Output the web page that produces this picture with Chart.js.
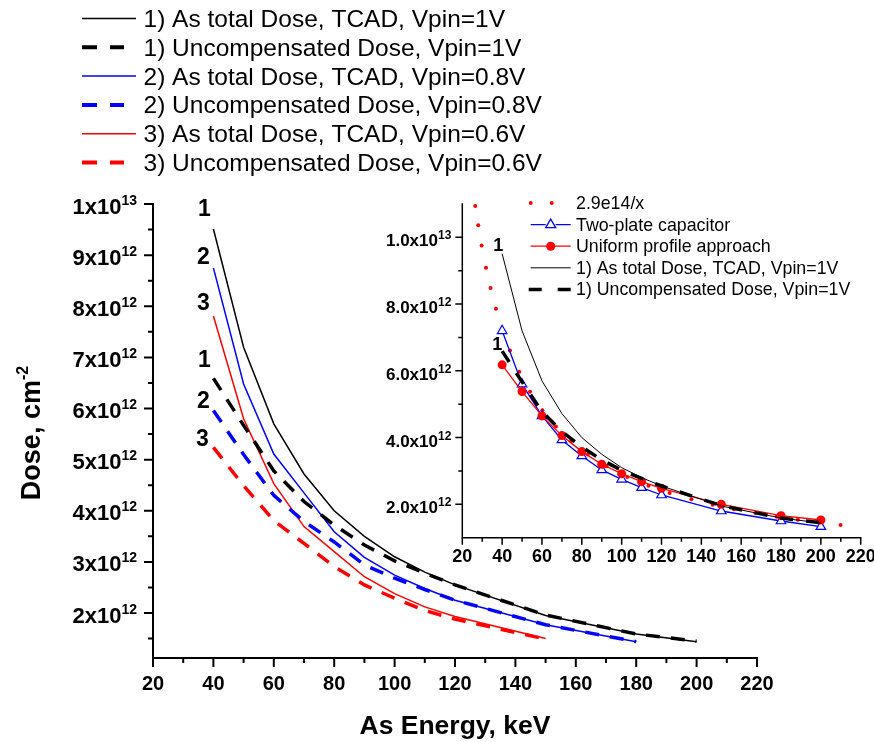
<!DOCTYPE html>
<html>
<head>
<meta charset="utf-8">
<title>Dose vs As energy</title>
<script src="https://cdn.jsdelivr.net/npm/chart.js"></script>
<style>
  body { margin: 0; background: #fff; }
  #wrap { position: relative; width: 874px; height: 742px; }
  #mainChart { position: absolute; left: 0; top: 0; }
  #insetChart { position: absolute; left: 370px; top: 180px; }
</style>
</head>
<body>
<div id="wrap">
<canvas id="mainChart" width="874" height="742"></canvas>
<canvas id="insetChart" width="504" height="400"></canvas>
</div>
<script>
// implant energies, keV
var energy = [40, 50, 60, 70, 80, 90, 100, 110, 120, 150, 180, 200];

// doses, cm^-2
var tcad1V   = [9.51e12, 7.20e12, 5.70e12, 4.72e12, 4.00e12, 3.50e12, 3.10e12, 2.80e12, 2.55e12, 1.95e12, 1.59e12, 1.44e12];
var uncomp1V = [6.59e12, 5.67e12, 4.78e12, 4.18e12, 3.72e12, 3.33e12, 3.02e12, 2.78e12, 2.55e12, 1.96e12, 1.59e12, 1.45e12];
var tcad08   = [8.75e12, 6.48e12, 5.11e12, 4.35e12, 3.59e12, 3.09e12, 2.74e12, 2.48e12, 2.25e12, 1.77e12, 1.44e12];
var uncomp08 = [5.96e12, 5.10e12, 4.30e12, 3.79e12, 3.39e12, 2.94e12, 2.68e12, 2.46e12, 2.25e12, 1.77e12, 1.44e12];
var tcad06   = [7.81e12, 5.80e12, 4.53e12, 3.69e12, 3.20e12, 2.71e12, 2.38e12, 2.12e12, 1.93e12, 1.50e12];
var uncomp06 = [5.24e12, 4.49e12, 3.81e12, 3.36e12, 2.91e12, 2.55e12, 2.29e12, 2.05e12, 1.88e12, 1.49e12];

// inset: models
var fitX = [26.5, 28.0, 29.7, 31.9, 34.2, 36.9, 40.3, 43.9, 48.6, 54.0, 60.2, 67.0, 74.6, 83.0, 92.4,
            102.8, 113.5, 124.1, 135.0, 145.7, 156.4, 167.1, 177.8, 188.5, 199.2, 209.9];
var fitY = [10.94e12, 10.36e12, 9.76e12, 9.09e12, 8.48e12, 7.86e12, 7.20e12, 6.61e12, 5.97e12, 5.37e12,
            4.82e12, 4.33e12, 3.89e12, 3.49e12, 3.14e12, 2.82e12, 2.56e12, 2.34e12, 2.15e12, 1.99e12,
            1.85e12, 1.74e12, 1.63e12, 1.54e12, 1.46e12, 1.38e12];
var twoPlate = [7.20e12, 5.60e12, 4.65e12, 3.93e12, 3.45e12, 3.03e12, 2.75e12, 2.50e12, 2.28e12, 1.80e12, 1.50e12, 1.33e12];
var uniform  = [6.18e12, 5.38e12, 4.65e12, 4.06e12, 3.58e12, 3.20e12, 2.92e12, 2.68e12, 2.48e12, 2.00e12, 1.66e12, 1.53e12];

// tick values and labels
var mainXMajor = [20, 40, 60, 80, 100, 120, 140, 160, 180, 200, 220];
var mainXMinor = [30, 50, 70, 90, 110, 130, 150, 170, 190, 210];
var mainYMajor = [2e12, 3e12, 4e12, 5e12, 6e12, 7e12, 8e12, 9e12, 1e13];
var mainYMant  = ['2', '3', '4', '5', '6', '7', '8', '9', '1'];
var mainYExp   = ['12', '12', '12', '12', '12', '12', '12', '12', '13'];
var mainYMinor = [1.5e12, 2.5e12, 3.5e12, 4.5e12, 5.5e12, 6.5e12, 7.5e12, 8.5e12, 9.5e12];
var insetYMajor = [2e12, 4e12, 6e12, 8e12, 1e13];
var insetYMant  = ['2.0', '4.0', '6.0', '8.0', '1.0'];
var insetYExp   = ['12', '12', '12', '12', '13'];
var insetYMinor = [3e12, 5e12, 7e12, 9e12];

var mainLegend = [
  '1) As total Dose, TCAD, Vpin=1V',
  '1) Uncompensated Dose, Vpin=1V',
  '2) As total Dose, TCAD, Vpin=0.8V',
  '2) Uncompensated Dose, Vpin=0.8V',
  '3) As total Dose, TCAD, Vpin=0.6V',
  '3) Uncompensated Dose, Vpin=0.6V'
];
var insetLegend = [
  '2.9e14/x',
  'Two-plate capacitor',
  'Uniform profile approach',
  '1) As total Dose, TCAD, Vpin=1V',
  '1) Uncompensated Dose, Vpin=1V'
];

var FONT = '"Liberation Sans", Arial, sans-serif';
var BLACK = '#000000', BLUE = '#0000ff', RED = '#ff0000';

function pts(xs, ys) {
  return ys.map(function (y, i) { return { x: xs[i], y: y }; });
}

function sciLabel(ctx, mant, exp, right, base, size, supSize, rise) {
  var f1 = 'bold ' + size + 'px ' + FONT, f2 = 'bold ' + supSize + 'px ' + FONT;
  ctx.font = f1;
  var w1 = ctx.measureText(mant + 'x10').width;
  ctx.font = f2;
  var w2 = ctx.measureText(exp).width;
  var left = right - w1 - w2;
  ctx.textAlign = 'left';
  ctx.textBaseline = 'alphabetic';
  ctx.font = f1;
  ctx.fillText(mant + 'x10', left, base);
  ctx.font = f2;
  ctx.fillText(exp, left + w1, base - rise);
}

// left + bottom axes with outward major/minor ticks
function drawAxes(chart, o) {
  var ctx = chart.ctx, a = chart.chartArea, sx = chart.scales.x, sy = chart.scales.y;
  ctx.save();
  ctx.strokeStyle = BLACK;
  ctx.fillStyle = BLACK;
  ctx.lineWidth = o.axisWidth;
  ctx.lineCap = 'square';
  ctx.beginPath();
  ctx.moveTo(a.left, a.top);
  ctx.lineTo(a.left, a.bottom);
  ctx.lineTo(a.right, a.bottom);
  ctx.stroke();
  ctx.lineCap = 'butt';
  ctx.lineWidth = o.tickWidth;
  ctx.beginPath();
  o.xMajor.forEach(function (v) { var p = sx.getPixelForValue(v); ctx.moveTo(p, a.bottom); ctx.lineTo(p, a.bottom + o.major); });
  o.xMinor.forEach(function (v) { var p = sx.getPixelForValue(v); ctx.moveTo(p, a.bottom); ctx.lineTo(p, a.bottom + o.minor); });
  o.yMajor.forEach(function (v) { var p = sy.getPixelForValue(v); ctx.moveTo(a.left, p); ctx.lineTo(a.left - o.major, p); });
  o.yMinor.forEach(function (v) { var p = sy.getPixelForValue(v); ctx.moveTo(a.left, p); ctx.lineTo(a.left - o.minor, p); });
  ctx.stroke();

  ctx.font = 'bold ' + o.xFont + 'px ' + FONT;
  ctx.textAlign = 'center';
  ctx.textBaseline = 'alphabetic';
  o.xMajor.forEach(function (v) {
    ctx.fillText(String(v), sx.getPixelForValue(v), a.bottom + o.xBase);
  });
  o.yMajor.forEach(function (v, i) {
    var p = sy.getPixelForValue(v);
    sciLabel(ctx, o.yMant[i], o.yExp[i], a.left - o.yGap, p + o.yBase, o.yFont, o.ySup, o.yRise);
  });
  ctx.restore();
}

// curve numbers next to the first point of each series
function drawTags(chart, size) {
  var ctx = chart.ctx;
  ctx.save();
  ctx.font = 'bold ' + size + 'px ' + FONT;
  ctx.fillStyle = BLACK;
  ctx.textAlign = 'center';
  ctx.textBaseline = 'middle';
  chart.data.datasets.forEach(function (ds, i) {
    if (!ds.tag) return;
    var p = chart.getDatasetMeta(i).data[0];
    ctx.fillText(ds.tag, p.x + ds.tagDx, p.y + ds.tagDy);
  });
  ctx.restore();
}

var mainPlugin = {
  id: 'mainDecor',
  afterDraw: function (chart) {
    drawAxes(chart, {
      axisWidth: 2, tickWidth: 2, major: 9, minor: 5,
      xMajor: mainXMajor, xMinor: mainXMinor, yMajor: mainYMajor, yMinor: mainYMinor,
      yMant: mainYMant, yExp: mainYExp,
      xFont: 20, xBase: 32, yFont: 22, ySup: 14, yRise: 9, yGap: 16, yBase: 9.5
    });
    drawTags(chart, 23);
    var ctx = chart.ctx;
    ctx.save();
    ctx.fillStyle = BLACK;
    // axis titles
    ctx.font = 'bold 26.5px ' + FONT;
    ctx.textAlign = 'center';
    ctx.textBaseline = 'alphabetic';
    ctx.fillText('As Energy, keV', 455, 734);
    ctx.translate(40, 433);
    ctx.rotate(-Math.PI / 2);
    ctx.font = 'bold 27px ' + FONT;
    var w1 = ctx.measureText('Dose, cm').width;
    ctx.font = 'bold 16px ' + FONT;
    var w2 = ctx.measureText('-2').width;
    var s = -(w1 + w2) / 2;
    ctx.textAlign = 'left';
    ctx.font = 'bold 27px ' + FONT;
    ctx.fillText('Dose, cm', s, 0);
    ctx.font = 'bold 16px ' + FONT;
    ctx.fillText('-2', s + w1, -12);
    ctx.restore();

    // legend
    var cols = [BLACK, BLACK, BLUE, BLUE, RED, RED];
    ctx.save();
    ctx.font = '24.5px ' + FONT;
    ctx.textAlign = 'left';
    ctx.textBaseline = 'alphabetic';
    mainLegend.forEach(function (t, i) {
      var y = 18.5 + i * 28.8;
      ctx.strokeStyle = cols[i];
      ctx.beginPath();
      if (i % 2 === 0) {
        ctx.lineWidth = 1.5;
        ctx.moveTo(82, y); ctx.lineTo(136, y);
      } else {
        ctx.lineWidth = 4;
        ctx.moveTo(82, y); ctx.lineTo(97, y);
        ctx.moveTo(110, y); ctx.lineTo(124, y);
      }
      ctx.stroke();
      ctx.fillStyle = BLACK;
      ctx.fillText(t, 143.5, y + 8.5);
    });
    ctx.restore();
  }
};

var solid = { borderWidth: 1.5, pointRadius: 0, fill: false, tension: 0 };
var dashed = { borderWidth: 3.5, borderDash: [14, 11], pointRadius: 0, fill: false, tension: 0 };

function line(data, color, style, extra) {
  return Object.assign({ data: data, borderColor: color, backgroundColor: color }, style, extra);
}

new Chart(document.getElementById('mainChart'), {
  type: 'line',
  data: {
    datasets: [
      line(pts(energy, tcad1V), BLACK, solid, { tag: '1', tagDx: -9, tagDy: -19 }),
      line(pts(energy, uncomp1V), BLACK, dashed, { tag: '1', tagDx: -9, tagDy: -18 }),
      line(pts(energy, tcad08), BLUE, solid, { tag: '2', tagDx: -10, tagDy: -10 }),
      line(pts(energy, uncomp08), BLUE, dashed, { tag: '2', tagDx: -10, tagDy: -9 }),
      line(pts(energy, tcad06), RED, solid, { tag: '3', tagDx: -10, tagDy: -12 }),
      line(pts(energy, uncomp06), RED, dashed, { tag: '3', tagDx: -11, tagDy: -8 })
    ]
  },
  options: {
    responsive: false,
    animation: false,
    layout: { padding: { left: 153, right: 117, top: 204, bottom: 84 } },
    plugins: { legend: { display: false }, tooltip: { enabled: false } },
    scales: {
      x: { type: 'linear', min: 20, max: 220, display: false },
      y: { type: 'linear', min: 1.12e12, max: 1e13, display: false }
    }
  },
  plugins: [mainPlugin]
});

var insetPlugin = {
  id: 'insetDecor',
  afterDraw: function (chart) {
    drawAxes(chart, {
      axisWidth: 1.5, tickWidth: 1.5, major: 7, minor: 4,
      xMajor: mainXMajor, xMinor: mainXMinor, yMajor: insetYMajor, yMinor: insetYMinor,
      yMant: insetYMant, yExp: insetYExp,
      xFont: 18, xBase: 24, yFont: 17, ySup: 12, yRise: 7, yGap: 11, yBase: 9
    });
    drawTags(chart, 18);
    var ctx = chart.ctx;
    ctx.save();
    ctx.font = '17.8px ' + FONT;
    ctx.textAlign = 'left';
    ctx.textBaseline = 'alphabetic';
    insetLegend.forEach(function (t, i) {
      var y = 23 + i * 21.6, x0 = 160.7, x1 = 200.7, xm = 180.7;
      ctx.beginPath();
      if (i === 0) {
        ctx.fillStyle = RED;
        ctx.arc(x0, y, 2, 0, Math.PI * 2);
        ctx.arc(x0 + 21, y, 2, 0, Math.PI * 2);
        ctx.fill();
      } else if (i === 1) {
        ctx.strokeStyle = BLUE; ctx.lineWidth = 1.3;
        ctx.moveTo(x0, y); ctx.lineTo(xm - 5, y);
        ctx.moveTo(xm + 5, y); ctx.lineTo(x1, y);
        ctx.stroke();
        ctx.beginPath();
        ctx.moveTo(xm, y - 5.5); ctx.lineTo(xm + 5, y + 3); ctx.lineTo(xm - 5, y + 3); ctx.closePath();
        ctx.fillStyle = '#fff'; ctx.fill(); ctx.stroke();
      } else if (i === 2) {
        ctx.strokeStyle = RED; ctx.lineWidth = 1.3;
        ctx.moveTo(x0, y); ctx.lineTo(x1, y); ctx.stroke();
        ctx.beginPath();
        ctx.fillStyle = RED;
        ctx.arc(xm, y, 4.5, 0, Math.PI * 2); ctx.fill();
      } else if (i === 3) {
        ctx.strokeStyle = BLACK; ctx.lineWidth = 1;
        ctx.moveTo(x0, y); ctx.lineTo(x1, y); ctx.stroke();
      } else {
        ctx.strokeStyle = BLACK; ctx.lineWidth = 3.5;
        ctx.moveTo(x0 - 2, y); ctx.lineTo(x0 + 11, y);
        ctx.moveTo(x1 - 13, y); ctx.lineTo(x1, y);
        ctx.stroke();
      }
      ctx.fillStyle = BLACK;
      ctx.fillText(t, 206, y + 6);
    });
    ctx.restore();
  }
};

new Chart(document.getElementById('insetChart'), {
  type: 'line',
  data: {
    datasets: [
      { data: pts(fitX, fitY), showLine: false, pointRadius: 2, pointBorderWidth: 0,
        pointBackgroundColor: RED, borderColor: RED, order: 5 },
      line(pts(energy, twoPlate), BLUE, { borderWidth: 1.3, pointStyle: 'triangle', pointRadius: 5.5,
        pointBackgroundColor: '#fff', pointBorderColor: BLUE, pointBorderWidth: 1.2, tension: 0 }, { order: 4 }),
      line(pts(energy, uniform), RED, { borderWidth: 1.3, pointStyle: 'circle', pointRadius: 4.5,
        pointBackgroundColor: RED, pointBorderColor: RED, pointBorderWidth: 0, tension: 0 }, { order: 3 }),
      line(pts(energy, tcad1V), BLACK, { borderWidth: 1, pointRadius: 0, tension: 0 },
        { order: 2, tag: '1', tagDx: -4, tagDy: -8 }),
      line(pts(energy, uncomp1V), BLACK, { borderWidth: 3.5, borderDash: [13, 13], pointRadius: 0, tension: 0 },
        { order: 1, tag: '1', tagDx: -5, tagDy: -6 })
    ]
  },
  options: {
    responsive: false,
    animation: false,
    layout: { padding: { left: 92.3, right: 13.3, top: 24, bottom: 42.3 } },
    plugins: { legend: { display: false }, tooltip: { enabled: false } },
    scales: {
      x: { type: 'linear', min: 20, max: 220, display: false },
      y: { type: 'linear', min: 1e12, max: 1.1e13, display: false }
    }
  },
  plugins: [insetPlugin]
});
</script>
</body>
</html>
